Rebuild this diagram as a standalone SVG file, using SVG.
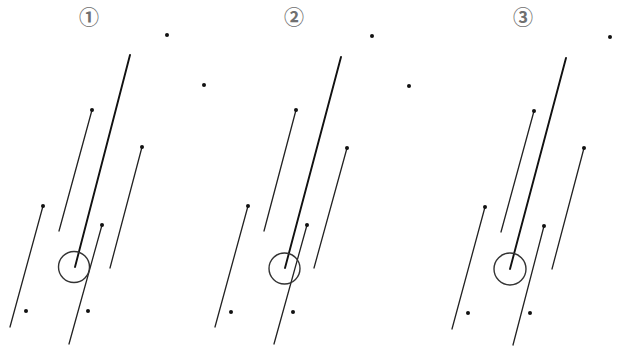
<svg xmlns="http://www.w3.org/2000/svg" width="642" height="347" viewBox="0 0 642 347">
<style>
.lbl{font-family:"Noto Sans CJK SC","DejaVu Sans",sans-serif;font-size:20px;font-weight:bold;fill:#707070;text-anchor:middle}
.ln{stroke:#222;stroke-width:1.3;fill:none;stroke-linecap:round}
.main{stroke:#111;stroke-width:1.9;fill:none;stroke-linecap:round}
.ring{stroke:#333;stroke-width:1.4;fill:none}
.dot{fill:#111}
</style>
<rect width="642" height="347" fill="#fff"/>
<g id="panel1">
<text class="lbl" x="89" y="25">①</text>
<g class="connectors">
<line class="main" x1="130" y1="55" x2="75" y2="267"/>
<line class="ln" x1="92" y1="110" x2="59" y2="231"/>
<line class="ln" x1="142" y1="147" x2="110" y2="268"/>
<line class="ln" x1="43" y1="206" x2="10" y2="327"/>
<line class="ln" x1="102" y1="225" x2="69" y2="344"/>
</g>
<circle class="ring" cx="74" cy="267" r="15.5"/>
<circle class="dot" cx="167" cy="35" r="2"/>
<circle class="dot" cx="204" cy="85" r="2"/>
<circle class="dot" cx="92" cy="110" r="2"/>
<circle class="dot" cx="142" cy="147" r="2"/>
<circle class="dot" cx="43" cy="206" r="2"/>
<circle class="dot" cx="102" cy="225" r="2"/>
<circle class="dot" cx="26" cy="311" r="2"/>
<circle class="dot" cx="88" cy="311" r="2"/>
</g>
<g id="panel2">
<text class="lbl" x="294" y="25">②</text>
<g class="connectors">
<line class="main" x1="341" y1="57" x2="285" y2="268"/>
<line class="ln" x1="296" y1="110" x2="264" y2="231"/>
<line class="ln" x1="347" y1="148" x2="314" y2="268"/>
<line class="ln" x1="248" y1="206" x2="215" y2="327"/>
<line class="ln" x1="307" y1="225" x2="274" y2="344"/>
</g>
<circle class="ring" cx="284.5" cy="268.5" r="15.5"/>
<circle class="dot" cx="372" cy="36" r="2"/>
<circle class="dot" cx="409" cy="86" r="2"/>
<circle class="dot" cx="296" cy="110" r="2"/>
<circle class="dot" cx="347" cy="148" r="2"/>
<circle class="dot" cx="248" cy="206" r="2"/>
<circle class="dot" cx="307" cy="225" r="2"/>
<circle class="dot" cx="231" cy="312" r="2"/>
<circle class="dot" cx="293" cy="312" r="2"/>
</g>
<g id="panel3">
<text class="lbl" x="523" y="25">③</text>
<g class="connectors">
<line class="main" x1="566" y1="58" x2="510" y2="269"/>
<line class="ln" x1="534" y1="111" x2="501" y2="232"/>
<line class="ln" x1="584" y1="148" x2="552" y2="269"/>
<line class="ln" x1="485" y1="207" x2="452" y2="329"/>
<line class="ln" x1="544" y1="226" x2="513" y2="345"/>
</g>
<circle class="ring" cx="510" cy="269" r="16"/>
<circle class="dot" cx="610" cy="37" r="2"/>
<circle class="dot" cx="534" cy="111" r="2"/>
<circle class="dot" cx="584" cy="148" r="2"/>
<circle class="dot" cx="485" cy="207" r="2"/>
<circle class="dot" cx="544" cy="226" r="2"/>
<circle class="dot" cx="468" cy="313" r="2"/>
<circle class="dot" cx="530" cy="313" r="2"/>
</g>
</svg>
